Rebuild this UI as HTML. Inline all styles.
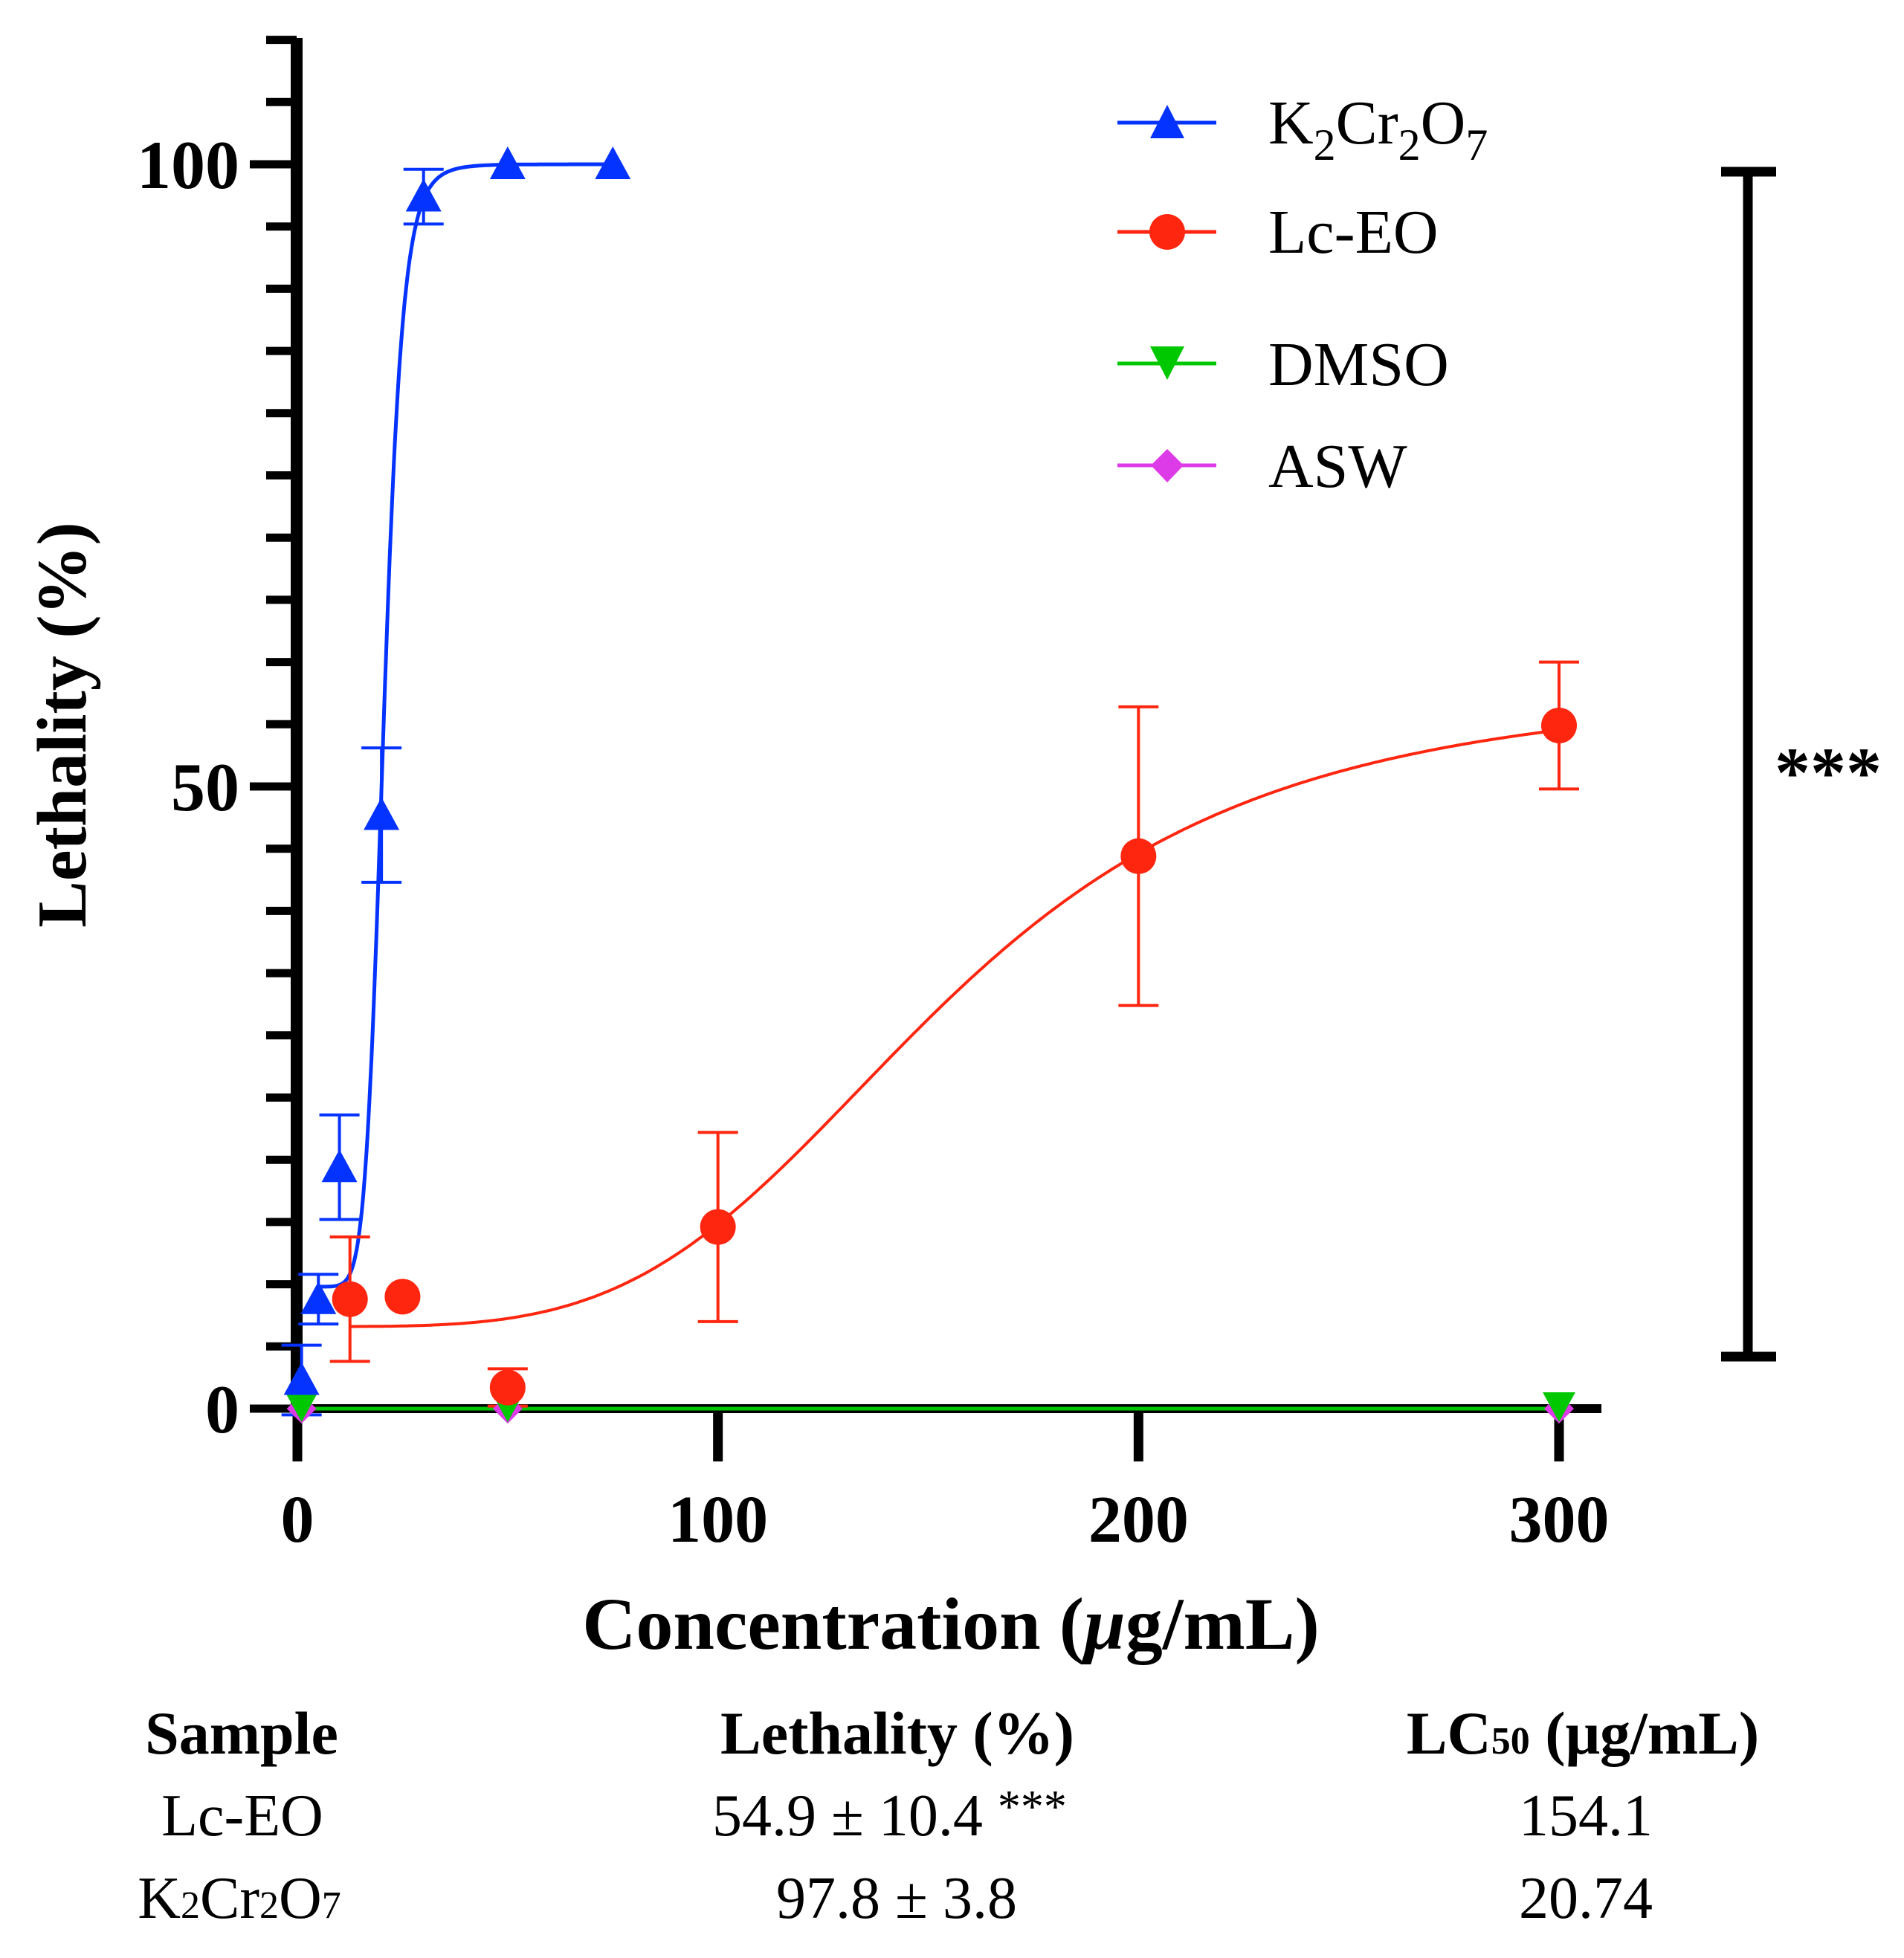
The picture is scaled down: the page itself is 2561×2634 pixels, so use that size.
<!DOCTYPE html>
<html><head><meta charset="utf-8">
<style>
html,body{margin:0;padding:0;background:#fff;}
svg{display:block;}
text{font-family:"Liberation Serif",serif;fill:#000;}
</style></head>
<body>
<svg id="chart" width="2561" height="2634" viewBox="0 0 2561 2634" xmlns="http://www.w3.org/2000/svg">
<g id="axes"></g>
<g id="series"></g>
<g id="legend">
  <line x1="1503" y1="165" x2="1636" y2="165" stroke="#0433ff" stroke-width="5"/>
  <polygon points="1570,141 1593,186 1547,186" fill="#0433ff"/>
  <text x="1706" y="193" font-size="84">K<tspan dy="22" font-size="60">2</tspan><tspan dy="-22">Cr</tspan><tspan dy="22" font-size="60">2</tspan><tspan dy="-22">O</tspan><tspan dy="22" font-size="60">7</tspan></text>
  <line x1="1503" y1="312" x2="1636" y2="312" stroke="#ff2610" stroke-width="5"/>
  <circle cx="1570" cy="312" r="24" fill="#ff2610"/>
  <text x="1706" y="340" font-size="84">Lc-EO</text>
  <line x1="1503" y1="489" x2="1636" y2="489" stroke="#00c800" stroke-width="5"/>
  <polygon points="1547,466 1593,466 1570,511" fill="#00c800"/>
  <text x="1706" y="518" font-size="84">DMSO</text>
  <line x1="1503" y1="626" x2="1636" y2="626" stroke="#dd3ae8" stroke-width="5"/>
  <polygon points="1570,604 1592,626 1570,649 1548,626" fill="#dd3ae8"/>
  <text x="1706" y="655" font-size="84">ASW</text>
</g>
<g>
  <line x1="2351" y1="231" x2="2351" y2="1825" stroke="#000" stroke-width="13"/>
  <line x1="2315" y1="231" x2="2389" y2="231" stroke="#000" stroke-width="13"/>
  <line x1="2315" y1="1825" x2="2389" y2="1825" stroke="#000" stroke-width="13"/>
  <text x="2459" y="1072" font-size="96" font-weight="bold" text-anchor="middle">***</text>
</g>
<text x="1279" y="2218" font-size="100" font-weight="bold" text-anchor="middle">Concentration  (<tspan font-style="italic">μ</tspan>g/mL)</text>
<text transform="translate(115,975) rotate(-90)" font-size="94" font-weight="bold" text-anchor="middle">Lethality (%)</text>
<g>
  <text x="325" y="2359" font-size="82" font-weight="bold" text-anchor="middle">Sample</text>
  <text x="1207" y="2359" font-size="82" font-weight="bold" text-anchor="middle">Lethality (%)</text>
  <text x="2129" y="2359" font-size="82" font-weight="bold" text-anchor="middle">LC<tspan font-size="52">50</tspan> (μg/mL)</text>
  <text x="326" y="2469" font-size="80" text-anchor="middle">Lc-EO</text>
  <text x="958" y="2469" font-size="80">54.9 ± 10.4 <tspan font-size="62" dy="-18">***</tspan></text>
  <text x="2133" y="2469" font-size="80" text-anchor="middle">154.1</text>
  <text x="322" y="2580" font-size="80" text-anchor="middle">K<tspan font-size="52">2</tspan>Cr<tspan font-size="52">2</tspan>O<tspan font-size="52">7</tspan></text>
  <text x="1206" y="2580" font-size="80" text-anchor="middle">97.8 ± 3.8</text>
  <text x="2133" y="2580" font-size="80" text-anchor="middle">20.74</text>
</g>
</svg>
<script>
// ---- data ----
const xTicks = [0, 100, 200, 300];
const yTicks = [0, 50, 100];
const k2X = [1, 5, 10, 20, 30, 50, 75];
const k2Y = [2.3, 8.8, 19.4, 47.7, 97.4, 100, 100];
const k2Err = [2.8, 2.0, 4.2, 5.4, 2.2, 0, 0];
const lcX = [12.5, 25, 50, 100, 200, 300];
const lcY = [8.8, 9.0, 1.7, 14.6, 44.4, 54.9];
const lcErr = [5.0, 0, 1.5, 7.6, 12.0, 5.1];
const dmsoX = [1, 50, 300];
const dmsoY = [0, 0, 0];
const aswX = [1, 50, 300];
const aswY = [0, 0, 0];
const k2Fit = [9.8, 100, 20.5, 9];   // bottom, top, EC50, hill
const lcFit = [6.6, 58, 153, 3.9];

// ---- axes functions ----
const X0 = 400, XS = (2097 - 400) / 300;
const Y0 = 1895, YS = (1895 - 221) / 100;
const sx = v => X0 + v * XS;
const sy = v => Y0 - v * YS;
const NS = 'http://www.w3.org/2000/svg';
function mk(tag, attrs, parent) {
  const e = document.createElementNS(NS, tag);
  for (const k in attrs) e.setAttribute(k, attrs[k]);
  parent.appendChild(e);
  return e;
}
const axes = document.getElementById('axes');
const series = document.getElementById('series');

let ya = mk('line', {x1: 399, y1: 51, x2: 399, y2: 1901, stroke: '#000', 'stroke-width': 16}, axes);


for (let v = 0; v <= 110; v += 5) {
  const major = yTicks.includes(v);
  const t = mk('line', {x1: major ? 336 : 358, y1: sy(v), x2: 399, y2: sy(v), stroke: '#000', 'stroke-width': 11}, axes);
  
  
}
yTicks.forEach(v => {
  const t = mk('text', {x: 322, y: sy(v) + 32, 'font-size': 92, 'font-weight': 'bold', 'text-anchor': 'end'}, axes);
  t.textContent = v;
  
  
});
let xa = mk('line', {x1: 391, y1: Y0, x2: 2154, y2: Y0, stroke: '#000', 'stroke-width': 12}, axes);


xTicks.forEach(v => {
  const t = mk('line', {x1: sx(v), y1: Y0, x2: sx(v), y2: 1966, stroke: '#000', 'stroke-width': 13}, axes);
  
  
  const l = mk('text', {x: sx(v), y: 2074, 'font-size': 90, 'font-weight': 'bold', 'text-anchor': 'middle'}, axes);
  l.textContent = v;
  
  
});

function fit(p, x) { return p[0] + (p[1] - p[0]) / (1 + Math.pow(p[2] / x, p[3])); }
function curve(p, a, b, color, w, name) {
  let d = '';
  for (let i = 0; i <= 300; i++) {
    const x = a + (b - a) * i / 300;
    d += (i ? 'L' : 'M') + sx(x).toFixed(1) + ',' + sy(fit(p, x)).toFixed(1);
  }
  const e = mk('path', {d: d, fill: 'none', stroke: color, 'stroke-width': w}, series);
  
  
}
function errBars(xs, ys, es, color, name) {
  xs.forEach((x, i) => {
    if (!es[i]) return;
    const cx = sx(x), y1 = sy(ys[i] - es[i]), y2 = sy(ys[i] + es[i]);
    const g = mk('g', {stroke: color, 'stroke-width': 4}, series);
    
    
    mk('line', {x1: cx, y1: y1, x2: cx, y2: y2}, g);
    mk('line', {x1: cx - 27, y1: y1, x2: cx + 27, y2: y1}, g);
    mk('line', {x1: cx - 27, y1: y2, x2: cx + 27, y2: y2}, g);
  });
}

let gl = mk('line', {x1: sx(0), y1: sy(0), x2: sx(300), y2: sy(0), stroke: '#00c800', 'stroke-width': 5}, series);



curve(k2Fit, 5, 75, '#0433ff', 5, 'k2cr2o7-fit-curve');
curve(lcFit, 12.5, 300, '#ff2610', 4, 'lc-eo-fit-curve');
errBars(k2X, k2Y, k2Err, '#0433ff', 'k2cr2o7-error-bar');
errBars(lcX, lcY, lcErr, '#ff2610', 'lc-eo-error-bar');

aswX.forEach((x, i) => {
  const cx = sx(x), cy = sy(aswY[i]);
  const e = mk('polygon', {points: `${cx},${cy-20} ${cx+20},${cy} ${cx},${cy+20} ${cx-20},${cy}`, fill: '#dd3ae8'}, series);
  
  
});
dmsoX.forEach((x, i) => {
  const cx = sx(x), cy = sy(dmsoY[i]);
  const e = mk('polygon', {points: `${cx-22},${cy-22} ${cx+22},${cy-22} ${cx},${cy+18}`, fill: '#00c800'}, series);
  
  
});
k2X.forEach((x, i) => {
  const cx = sx(x), cy = sy(k2Y[i]);
  const e = mk('polygon', {points: `${cx},${cy-24} ${cx+24},${cy+20} ${cx-24},${cy+20}`, fill: '#0433ff'}, series);
  
  
});
lcX.forEach((x, i) => {
  const e = mk('circle', {cx: sx(x), cy: sy(lcY[i]), r: 24, fill: '#ff2610'}, series);
  
  
});
</script>
</body></html>
